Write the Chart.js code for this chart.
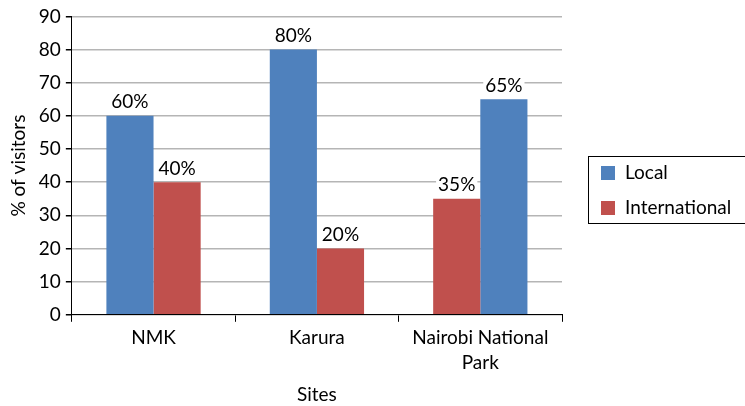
<!DOCTYPE html>
<html>
<head>
<meta charset="utf-8">
<script src="https://cdn.jsdelivr.net/npm/chart.js@4.4.1/dist/chart.umd.min.js"></script>
<style>
  html, body { margin: 0; padding: 0; background: #fff; }
  #wrap { width: 745px; height: 406px; }
</style>
</head>
<body>
<div id="wrap"><canvas id="chart"></canvas></div>
<script>
const sites = ['NMK', 'Karura', ['Nairobi National', 'Park']];
const local = [60, 80, 65];
const international = [40, 20, 35];
// which series sits in the left slot of each group (Nairobi is swapped)
const leftSeries = ['local', 'local', 'international'];
const yTicks = [0, 10, 20, 30, 40, 50, 60, 70, 80, 90];

const BLUE = '#4F81BD';
const RED = '#C0504D';
const FONT = 'Lato, "Open Sans", sans-serif';
const FS = 19;

const series = { local: local, international: international };
const colours = { local: BLUE, international: RED };
const otherOf = s => (s === 'local' ? 'international' : 'local');

const leftData = leftSeries.map((s, i) => series[s][i]);
const rightData = leftSeries.map((s, i) => series[otherOf(s)][i]);
const leftColours = leftSeries.map(s => colours[s]);
const rightColours = leftSeries.map(s => colours[otherOf(s)]);

// value labels above every bar, on a white patch like Excel does
const valueLabels = {
  id: 'valueLabels',
  afterDatasetsDraw(chart) {
    const ctx = chart.ctx;
    ctx.save();
    ctx.font = FS + 'px ' + FONT;
    ctx.textAlign = 'center';
    ctx.textBaseline = 'bottom';
    chart.data.datasets.forEach((ds, di) => {
      chart.getDatasetMeta(di).data.forEach((bar, i) => {
        const txt = ds.data[i] + '%';
        const w = ctx.measureText(txt).width;
        const y = bar.y - 4;
        ctx.fillStyle = '#fff';
        ctx.fillRect(bar.x - w / 2 - 2, y - 20, w + 4, 20);
        ctx.fillStyle = '#000';
        ctx.fillText(txt, bar.x, y);
      });
    });
    ctx.restore();
  }
};

// boxed legend to the right of the plot
const boxLegend = {
  id: 'boxLegend',
  afterDraw(chart) {
    const ctx = chart.ctx;
    const x = 588, y = 156, w = 160, h = 67;
    ctx.save();
    ctx.strokeStyle = '#000';
    ctx.lineWidth = 1;
    ctx.strokeRect(x + 0.5, y + 0.5, w, h);
    ctx.font = FS + 'px ' + FONT;
    ctx.textBaseline = 'middle';
    ctx.textAlign = 'left';
    [['Local', BLUE], ['International', RED]].forEach((item, i) => {
      const cy = y + 17 + i * 35;
      ctx.fillStyle = item[1];
      ctx.fillRect(x + 13, cy - 7, 14, 14);
      ctx.fillStyle = '#000';
      ctx.fillText(item[0], x + 37, cy);
    });
    ctx.restore();
  }
};

new Chart(document.getElementById('chart'), {
  type: 'bar',
  data: {
    labels: sites,
    datasets: [
      { label: 'left', data: leftData, backgroundColor: leftColours },
      { label: 'right', data: rightData, backgroundColor: rightColours }
    ]
  },
  options: {
    responsive: true,
    maintainAspectRatio: false,
    animation: false,
    layout: { padding: { top: 5, right: 183, left: 7, bottom: 0 } },
    datasets: {
      bar: { categoryPercentage: 0.577, barPercentage: 1.0 }
    },
    scales: {
      x: {
        grid: {
          offset: true,
          drawOnChartArea: false,
          tickLength: 7,
          tickColor: '#000'
        },
        border: { color: '#000', width: 1 },
        ticks: {
          color: '#000',
          font: { family: FONT, size: FS, lineHeight: 1.3 },
          padding: 4,
          maxRotation: 0
        },
        title: {
          display: true,
          text: 'Sites',
          color: '#000',
          font: { family: FONT, size: FS },
          padding: { top: 4, bottom: 0 }
        }
      },
      y: {
        min: 0,
        max: 90,
        afterBuildTicks(scale) {
          scale.ticks = yTicks.map(v => ({ value: v }));
        },
        grid: {
          color: '#B5B5B5',
          tickColor: '#000',
          tickLength: 6,
          lineWidth: 1.5
        },
        border: { color: '#000', width: 1 },
        ticks: {
          color: '#000',
          font: { family: FONT, size: FS },
          padding: 5
        },
        title: {
          display: true,
          text: '% of visitors',
          color: '#000',
          font: { family: FONT, size: FS },
          padding: { top: 0, bottom: 4 }
        }
      }
    },
    plugins: {
      legend: { display: false },
      tooltip: { enabled: false }
    }
  },
  plugins: [valueLabels, boxLegend]
});
</script>
</body>
</html>
